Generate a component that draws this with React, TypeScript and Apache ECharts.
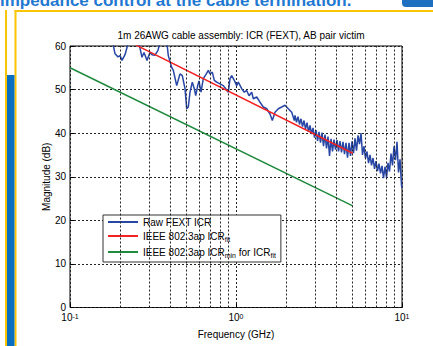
import React, { useEffect, useRef } from "react";
import * as echarts from "echarts";

// ---- Data (frequency in GHz, magnitude in dB) ----
const rawFreq: number[] = [
  0.1742, 0.1816, 0.1867, 0.1946, 0.2001, 0.2057, 0.2145, 0.2236, 0.2331, 0.2533,
  0.2641, 0.2715, 0.2791, 0.291, 0.3033, 0.3119, 0.3251, 0.3389, 0.3485, 0.3684,
  0.384, 0.391, 0.4099, 0.4191, 0.4393, 0.4599, 0.4748, 0.4929, 0.5047, 0.516,
  0.5283, 0.5454, 0.5608, 0.5718, 0.5879, 0.5986, 0.6154, 0.6354, 0.6596, 0.681,
  0.6972, 0.7198, 0.7401, 0.7652, 0.801, 0.8385, 0.8669, 0.8988, 0.9202, 0.9421,
  0.9767, 1.0098, 1.0325, 1.0824, 1.1221, 1.1601, 1.1977, 1.2435, 1.2713, 1.3327,
  1.3951, 1.4605, 1.5309, 1.6027, 1.6546, 1.7178, 1.7982, 1.8851, 1.9735, 2.0657,
  2.1656, 2.2452,
  2.2671, 2.3148, 2.3634, 2.4131, 2.4639, 2.5157, 2.5686, 2.6226, 2.6777, 2.734,
  2.7915, 2.8502, 2.9101, 2.9713, 3.0338, 3.0976, 3.1627, 3.2292, 3.2971, 3.3664,
  3.4372, 3.5095, 3.5833, 3.6586, 3.7355, 3.814, 3.8942, 3.9761, 4.0597, 4.145,
  4.2322, 4.3212, 4.412, 4.5048, 4.5995, 4.6962, 4.7949, 4.8957, 4.9987, 5.1038,
  5.2111, 5.3206, 5.4325, 5.5467, 5.6633, 5.7824, 5.904, 6.0281, 6.1548, 6.2842,
  6.4163, 6.5512, 6.689, 6.8296, 6.9732, 7.1198, 7.2695, 7.4223, 7.5784, 7.7377,
  7.9004, 8.0665, 8.2361, 8.4092, 8.586, 8.7665, 8.9508, 9.139, 9.3312, 9.5273,
  9.7276, 9.9322, 10.0,
];
const rawDb: number[] = [
  62, 60.5, 58.2, 57.5, 57.8, 56.7, 58, 60.5, 62, 62,
  59.5, 57.4, 58.5, 56.7, 58.5, 58, 57.9, 59, 60.8, 62,
  60.5, 57.8, 55.1, 54.4, 50.9, 53.6, 53.2, 50.2, 45.6, 46,
  49.4, 51.7, 50.2, 48.6, 50.9, 52, 49.4, 52.5, 53.5, 54.4,
  53.6, 54, 52.1, 51.7, 51.3, 50.9, 50.2, 49.4, 52.5, 53.2,
  52.1, 50.9, 51.7, 50.2, 49.4, 49.8, 48.6, 49.4, 47.9, 48.3,
  47.1, 46, 45.6, 44.4, 42.9, 44.8, 45.6, 46, 46.4, 45.6,
  44.8, 42.9,
  44.1, 42.5, 43.8, 42.0, 43.3, 41.5, 42.9, 41.0, 42.4, 40.3,
  41.8, 39.8, 41.2, 39.0, 40.7, 38.2, 40.3, 37.8, 40.1, 37.0,
  39.7, 36.5, 39.2, 34.8, 38.7, 35.8, 38.5, 36.2, 38.4, 35.8,
  38.2, 35.6, 38.0, 35.2, 37.8, 34.4, 37.8, 34.8, 38.1, 35.4,
  38.8, 36.0, 39.5, 37.5, 40.0, 35.0, 37.0, 34.2, 35.8, 33.1,
  35.0, 32.6, 34.3, 31.8, 33.6, 31.3, 33.0, 30.8, 32.5, 29.7,
  32.3, 29.8, 33.2, 31.2, 35.3, 32.6, 37.0, 33.8, 38.0, 31.0,
  34.0, 28.0, 27.4,
];
const fitFreq: number[] = [0.25, 5.05];
const fitDb: number[] = [60.2, 35.4];
const minFreq: number[] = [0.1, 5.05];
const minDb: number[] = [55.0, 23.3];
const minorGridFreq: number[] = [0.2, 0.3, 0.4, 0.5, 0.6, 0.7, 0.8, 0.9, 2, 3, 4, 5, 6, 7, 8, 9];
const seriesNames: string[] = [
  "Raw FEXT ICR",
  "IEEE 802.3ap ICRfit",
  "IEEE 802.3ap ICRmin for ICRfit",
];
const legendRich: string[] = [
  "{n|Raw FEXT ICR}",
  "{n|IEEE 802.3ap ICR}{s|fit}",
  "{n|IEEE 802.3ap ICR}{s|min}{n| for ICR}{s|fit}",
];
const titleText = "1m 26AWG cable assembly: ICR (FEXT), AB pair victim";
const headerText = "impedance control at the cable termination.";

const FONT = "Liberation Sans, Arial, Helvetica, sans-serif";

function pairs(xs: number[], ys: number[]) {
  return xs.map((x, i) => [x, ys[i]]);
}

export default function App() {
  const ref = useRef<HTMLDivElement>(null);
  useEffect(() => {
    if (!ref.current) return;
    const chart = echarts.init(ref.current, undefined, { renderer: "svg" });
    const dotted = { color: "#222", type: [2, 2] as number[], width: 1 };
    chart.setOption({
      animation: false,
      backgroundColor: "#fff",
      title: {
        text: titleText,
        left: 236,
        textAlign: "center",
        top: 25,
        padding: 5,
        textStyle: { fontSize: 10, fontWeight: "normal", color: "#000", fontFamily: FONT },
      },
      grid: {
        left: 70,
        top: 46,
        width: 332,
        height: 261.5,
        show: true,
        borderColor: "#000",
        borderWidth: 1,
        backgroundColor: "#fff",
        containLabel: false,
      },
      legend: {
        data: seriesNames,
        orient: "vertical",
        left: 103,
        top: 215,
        padding: [2, 5, 3, 5],
        itemGap: 4,
        itemWidth: 30,
        itemHeight: 2,
        icon: "rect",
        backgroundColor: "#fff",
        borderColor: "#333",
        borderWidth: 1,
        formatter: (name: string) => legendRich[seriesNames.indexOf(name)],
        textStyle: {
          color: "#000",
          fontFamily: FONT,
          rich: {
            n: { fontSize: 10, lineHeight: 14, color: "#000", fontFamily: FONT },
            s: { fontSize: 7, lineHeight: 8, verticalAlign: "bottom", color: "#000", fontFamily: FONT },
          },
        },
      },
      xAxis: {
        type: "log",
        logBase: 10,
        min: 0.1,
        max: 10,
        name: "Frequency (GHz)",
        nameLocation: "middle",
        nameGap: 22,
        nameMoveOverlap: false,
        nameTextStyle: { fontSize: 10, color: "#000", fontFamily: FONT },
        axisLine: { show: false },
        axisTick: { show: true, inside: true, length: 4, lineStyle: { color: "#000" } },
        splitLine: { show: true, lineStyle: dotted },
        axisLabel: {
          margin: 5,
          formatter: (v: number) => `{b|10}{s|${Math.round(Math.log10(v))}}`,
          rich: {
            b: { fontSize: 10, lineHeight: 10, padding: [4, 0, 0, 0], verticalAlign: "bottom", color: "#000", fontFamily: FONT },
            s: { fontSize: 7, lineHeight: 8, verticalAlign: "top", color: "#000", fontFamily: FONT },
          },
        },
      },
      yAxis: {
        type: "value",
        min: 0,
        max: 60,
        interval: 10,
        name: "Magnitude (dB)",
        nameLocation: "middle",
        nameGap: 19,
        nameMoveOverlap: false,
        nameTextStyle: { fontSize: 10, color: "#000", fontFamily: FONT },
        axisLine: { show: false },
        axisTick: { show: true, inside: true, length: 4, lineStyle: { color: "#000" } },
        splitLine: { show: true, lineStyle: dotted },
        axisLabel: { fontSize: 10, color: "#000", fontFamily: FONT, margin: 4 },
      },
      series: [
        {
          name: "minorGrid",
          type: "line",
          data: [],
          z: 1,
          silent: true,
          markLine: {
            silent: true,
            symbol: ["none", "none"],
            label: { show: false },
            lineStyle: dotted,
            data: minorGridFreq.map((f) => ({ xAxis: f })),
          },
        },
        {
          name: seriesNames[0],
          type: "line",
          data: pairs(rawFreq, rawDb),
          symbol: "none",
          z: 3,
          lineStyle: { color: "#2846a4", width: 1.5 },
          itemStyle: { color: "#2846a4" },
        },
        {
          name: seriesNames[1],
          type: "line",
          data: pairs(fitFreq, fitDb),
          symbol: "none",
          z: 4,
          lineStyle: { color: "#f52222", width: 1.5 },
          itemStyle: { color: "#f52222" },
        },
        {
          name: seriesNames[2],
          type: "line",
          data: pairs(minFreq, minDb),
          symbol: "none",
          z: 4,
          lineStyle: { color: "#1f8a3e", width: 1.5 },
          itemStyle: { color: "#1f8a3e" },
        },
      ],
      graphic: [
        { type: "rect", shape: { x: 5, y: 10, width: 2, height: 336 }, style: { fill: "#f9c400" } },
        { type: "rect", shape: { x: 14.5, y: 10, width: 2, height: 336 }, style: { fill: "#f9c400" } },
        { type: "rect", shape: { x: 14.5, y: 10, width: 419, height: 2 }, style: { fill: "#f9c400" } },
        { type: "rect", shape: { x: 7, y: 75, width: 7.5, height: 271 }, style: { fill: "#0b6fc0" } },
        { type: "rect", shape: { x: 402, y: 0, width: 31, height: 7, r: [0, 0, 0, 4] }, style: { fill: "#1f6fc0" } },
        {
          type: "text",
          x: 0,
          y: 0,
          style: {
            text: headerText,
            fontSize: 17,
            fontWeight: "bold",
            fontFamily: FONT,
            fill: "#1f78d1",
            verticalAlign: "middle",
          },
        },
      ],
    });
    return () => chart.dispose();
  }, []);
  return (
    <div
      ref={ref}
      style={{ position: "absolute", left: 0, top: 0, width: 433, height: 346 }}
    />
  );
}
